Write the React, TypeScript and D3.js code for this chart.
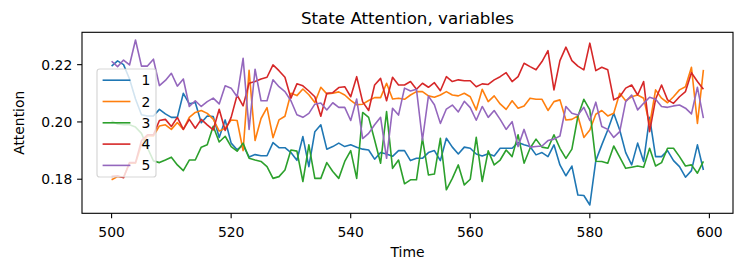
import React, { useRef, useEffect } from "react";
import { select, scaleLinear, line, format } from "d3";

// time axis starts at step 500, one value per step
const startTime = 500;
const seriesNames = ["1", "2", "3", "4", "5"];
const seriesColors = ["#1f77b4", "#ff7f0e", "#2ca02c", "#d62728", "#9467bd"];
const xTicks = [500, 520, 540, 560, 580, 600];
const yTicks = [0.18, 0.2, 0.22];
const xLimits: [number, number] = [495.05, 603.95];
const yLimits: [number, number] = [0.1681, 0.2313];

const attention1 = [
  0.2195, 0.2213, 0.22, 0.215, 0.208, 0.2025, 0.2021, 0.2021, 0.2044, 0.2028,
  0.2016, 0.2016, 0.21, 0.2063, 0.2068, 0.1997, 0.2021, 0.2019, 0.1946, 0.2007,
  0.1926, 0.1903, 0.1918, 0.1878, 0.1886, 0.1882, 0.1882, 0.1928, 0.191, 0.191,
  0.1893, 0.1866, 0.1949, 0.1844, 0.1966, 0.199, 0.1905, 0.1914, 0.1926, 0.1914,
  0.192, 0.1912, 0.1905, 0.1902, 0.187, 0.1893, 0.1888, 0.188, 0.19, 0.19,
  0.1865, 0.1873, 0.1873, 0.1893, 0.19, 0.1865, 0.1943, 0.1912, 0.1888, 0.1912,
  0.1908, 0.1888, 0.1881, 0.1889, 0.1881, 0.1908, 0.1908, 0.1908, 0.1928, 0.192,
  0.1914, 0.1885, 0.1893, 0.1879, 0.192, 0.185, 0.1812, 0.1846, 0.1745, 0.1743,
  0.171, 0.1865, 0.192, 0.1972, 0.203, 0.1972, 0.1893, 0.185, 0.1926, 0.1862,
  0.2016, 0.1879, 0.1879, 0.19, 0.1865, 0.1844, 0.1807, 0.183, 0.192, 0.1832,
];

const attention2 = [
  0.1798, 0.1809, 0.1807, 0.1856, 0.1856, 0.192, 0.1951, 0.1951, 0.1986, 0.199,
  0.1974, 0.1998, 0.1974, 0.2016, 0.2033, 0.204, 0.203, 0.201, 0.1968, 0.1978,
  0.2007, 0.2005, 0.19, 0.218, 0.1935, 0.2012, 0.205, 0.1945, 0.2007, 0.202,
  0.21, 0.2092, 0.2115, 0.2095, 0.2068, 0.2121, 0.2098, 0.21, 0.2105, 0.2094,
  0.2075, 0.206, 0.2062, 0.2075, 0.2085, 0.2085, 0.2135, 0.208, 0.2083, 0.2079,
  0.2094, 0.2106, 0.2106, 0.2091, 0.2086, 0.2094, 0.2106, 0.2094, 0.2091, 0.21,
  0.2088, 0.2042, 0.2114, 0.2071, 0.2091, 0.2063, 0.2044, 0.2074, 0.2048, 0.2056,
  0.2083, 0.2079, 0.2079, 0.204, 0.2071, 0.2077, 0.2007, 0.2009, 0.2021, 0.1946,
  0.1972, 0.2027, 0.204, 0.2021, 0.203, 0.21, 0.2074, 0.2088, 0.2094, 0.2083,
  0.199, 0.2112, 0.2083, 0.2067, 0.2088, 0.2112, 0.2123, 0.2191, 0.1995, 0.2182,
];

const attention3 = [
  0.2003, 0.1993, 0.199, 0.199, 0.1982, 0.196, 0.191, 0.1864, 0.1858, 0.1867,
  0.1877, 0.185, 0.183, 0.1867, 0.1867, 0.1912, 0.192, 0.1985, 0.193, 0.195,
  0.1914, 0.1898, 0.1926, 0.1873, 0.1867, 0.1862, 0.1844, 0.1803, 0.1809, 0.1832,
  0.1902, 0.1898, 0.1792, 0.192, 0.1803, 0.1803, 0.1858, 0.1827, 0.1803, 0.1862,
  0.19, 0.1803, 0.2033, 0.2016, 0.1937, 0.1856, 0.2036, 0.1838, 0.1867, 0.1784,
  0.1798, 0.1798, 0.1943, 0.1815, 0.1818, 0.1943, 0.1763, 0.1803, 0.185, 0.178,
  0.18, 0.1946, 0.1792, 0.1899, 0.185, 0.1867, 0.1902, 0.1879, 0.1955, 0.1856,
  0.1908, 0.194, 0.1912, 0.1908, 0.1955, 0.1908, 0.1873, 0.1905, 0.2019, 0.2079,
  0.2042, 0.1863, 0.1862, 0.1856, 0.1916, 0.1877, 0.1838, 0.1842, 0.1846, 0.1842,
  0.1908, 0.1846, 0.1858, 0.1908, 0.1908, 0.1879, 0.1846, 0.185, 0.1821, 0.1862,
];

const attention4 = [
  0.181, 0.1812, 0.1805, 0.1858, 0.1858, 0.1935, 0.1955, 0.1955, 0.2005, 0.2009,
  0.1984, 0.2016, 0.1974, 0.2009, 0.1978, 0.2009, 0.199, 0.1972, 0.2044, 0.197,
  0.2016, 0.2094, 0.2056, 0.2135, 0.2141, 0.215, 0.2156, 0.2199, 0.2179, 0.2156,
  0.2083, 0.2133, 0.2126, 0.2108, 0.2088, 0.202, 0.21, 0.2102, 0.212, 0.2123,
  0.2088, 0.2158, 0.207, 0.204, 0.2129, 0.2152, 0.2074, 0.2156, 0.2129, 0.2129,
  0.2141, 0.2114, 0.2135, 0.2121, 0.2137, 0.2109, 0.2158, 0.2141, 0.2147, 0.2144,
  0.2144, 0.2123, 0.2133, 0.2131, 0.2147, 0.2158, 0.2172, 0.2141, 0.2158, 0.2205,
  0.2193, 0.2182, 0.2211, 0.2249, 0.2112, 0.2214, 0.2261, 0.2214, 0.2195, 0.2182,
  0.2275, 0.2179, 0.2191, 0.2182, 0.2077, 0.2088, 0.2118, 0.2129, 0.2094, 0.2141,
  0.1966, 0.2079, 0.2129, 0.2077, 0.2065, 0.2088, 0.2106, 0.2172, 0.2141, 0.2114,
];

const attention5 = [
  0.2212, 0.2193, 0.2216, 0.2199, 0.2286, 0.2195, 0.2195, 0.2219, 0.2127, 0.2145,
  0.217, 0.2125, 0.215, 0.2054, 0.2074, 0.2054, 0.2071, 0.2083, 0.2063, 0.2126,
  0.2118, 0.2088, 0.2222, 0.1974, 0.2184, 0.2074, 0.2074, 0.2147, 0.2123, 0.2106,
  0.2074, 0.2025, 0.2016, 0.203, 0.2062, 0.2066, 0.2042, 0.2067, 0.2051, 0.2051,
  0.2005, 0.208, 0.1942, 0.196, 0.199, 0.2016, 0.1873, 0.2048, 0.2024, 0.2118,
  0.2108, 0.2114, 0.1937, 0.209, 0.206, 0.1995, 0.2045, 0.2059, 0.2035, 0.2072,
  0.205, 0.2006, 0.2054, 0.2016, 0.204, 0.2009, 0.1974, 0.2001, 0.1914, 0.1974,
  0.1912, 0.1914, 0.1916, 0.1935, 0.194, 0.1951, 0.2054, 0.203, 0.2024, 0.2051,
  0.2005, 0.2069, 0.1984, 0.1974, 0.1946, 0.1966, 0.2071, 0.2094, 0.2042, 0.2065,
  0.2086, 0.2079, 0.2054, 0.2051, 0.2056, 0.2059, 0.2048, 0.2028, 0.2121, 0.2013,
];

const allSeries = [attention1, attention2, attention3, attention4, attention5];

const width = 745;
const height = 270;
const plotLeft = 82;
const plotRight = 733;
const plotTop = 32.3;
const plotBottom = 213.3;
const fontSize = 13.9;
const font = "DejaVu Sans";

const StateAttentionChart: React.FC = () => {
  const svgRef = useRef<SVGSVGElement>(null);

  useEffect(() => {
    const svg = select(svgRef.current);
    svg.selectAll("*").remove();

    const x = scaleLinear().domain(xLimits).range([plotLeft, plotRight]);
    const y = scaleLinear().domain(yLimits).range([plotBottom, plotTop]);

    const l = line<number>()
      .x((_, i) => x(startTime + i))
      .y((d) => y(d));

    svg
      .selectAll("path.series")
      .data(allSeries)
      .join("path")
      .classed("series", true)
      .attr("d", (d) => l(d))
      .attr("fill", "none")
      .attr("stroke", (_, i) => seriesColors[i])
      .attr("stroke-width", 1.6)
      .attr("stroke-linejoin", "round");

    // frame
    svg
      .append("rect")
      .attr("x", plotLeft)
      .attr("y", plotTop)
      .attr("width", plotRight - plotLeft)
      .attr("height", plotBottom - plotTop)
      .attr("fill", "none")
      .attr("stroke", "black")
      .attr("stroke-width", 1.1);

    // x ticks
    const xt = svg.append("g");
    xt.selectAll("line")
      .data(xTicks)
      .join("line")
      .attr("x1", (d) => x(d))
      .attr("x2", (d) => x(d))
      .attr("y1", plotBottom)
      .attr("y2", plotBottom + 4.9)
      .attr("stroke", "black")
      .attr("stroke-width", 1.1);
    xt.selectAll("text")
      .data(xTicks)
      .join("text")
      .attr("x", (d) => x(d))
      .attr("y", 236.5)
      .attr("text-anchor", "middle")
      .attr("font-family", font)
      .attr("font-size", fontSize)
      .text((d) => String(d));

    // y ticks
    const yt = svg.append("g");
    yt.selectAll("line")
      .data(yTicks)
      .join("line")
      .attr("x1", plotLeft - 4.9)
      .attr("x2", plotLeft)
      .attr("y1", (d) => y(d))
      .attr("y2", (d) => y(d))
      .attr("stroke", "black")
      .attr("stroke-width", 1.1);
    yt.selectAll("text")
      .data(yTicks)
      .join("text")
      .attr("x", 72.3)
      .attr("y", (d) => y(d) + 5)
      .attr("text-anchor", "end")
      .attr("font-family", font)
      .attr("font-size", fontSize)
      .text((d) => format(".2f")(d));

    // title and axis labels
    svg
      .append("text")
      .attr("x", (plotLeft + plotRight) / 2)
      .attr("y", 24)
      .attr("text-anchor", "middle")
      .attr("font-family", font)
      .attr("font-size", 16.7)
      .text("State Attention, variables");
    svg
      .append("text")
      .attr("x", (plotLeft + plotRight) / 2)
      .attr("y", 256.5)
      .attr("text-anchor", "middle")
      .attr("font-family", font)
      .attr("font-size", fontSize)
      .text("Time");
    svg
      .append("text")
      .attr("transform", `translate(24,${(plotTop + plotBottom) / 2}) rotate(-90)`)
      .attr("text-anchor", "middle")
      .attr("font-family", font)
      .attr("font-size", fontSize)
      .text("Attention");

    // legend
    const lg = svg.append("g");
    const rowGap = 21.3;
    const legendMid = (plotTop + plotBottom) / 2;
    const firstRow = legendMid - 2 * rowGap;
    lg.append("rect")
      .attr("x", 97)
      .attr("y", 69)
      .attr("width", 59)
      .attr("height", 108)
      .attr("rx", 2.8)
      .attr("fill", "white")
      .attr("fill-opacity", 0.8)
      .attr("stroke", "#cccccc")
      .attr("stroke-opacity", 0.8)
      .attr("stroke-width", 1.2);
    lg.selectAll("line")
      .data(seriesNames)
      .join("line")
      .attr("x1", 102.6)
      .attr("x2", 130.4)
      .attr("y1", (_, i) => firstRow + i * rowGap)
      .attr("y2", (_, i) => firstRow + i * rowGap)
      .attr("stroke", (_, i) => seriesColors[i])
      .attr("stroke-width", 1.6);
    lg.selectAll("text")
      .data(seriesNames)
      .join("text")
      .attr("x", 141.5)
      .attr("y", (_, i) => firstRow + i * rowGap + 5)
      .attr("font-family", font)
      .attr("font-size", fontSize)
      .text((d) => d);
  }, []);

  return (
    <svg
      ref={svgRef}
      width={width}
      height={height}
      style={{ position: "absolute", left: 0, top: 0, background: "white" }}
    ></svg>
  );
};

export default function App() {
  return <StateAttentionChart />;
}
